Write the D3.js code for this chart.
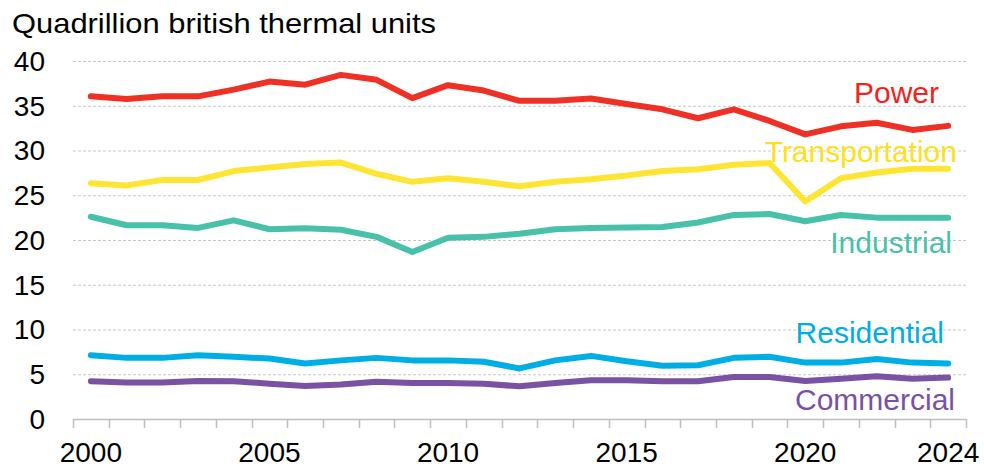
<!DOCTYPE html>
<html lang="en">
<head>
<meta charset="UTF-8">
<title>Energy consumption by sector</title>
<style>
    body { margin: 0; background: #fff; }
    svg { display: block; }
    text { font-family: "Liberation Sans", Arial, sans-serif; fill: #000; }
    .grid line { stroke: #c8c8c8; stroke-width: 1; stroke-dasharray: 3, 2; }
    .series { fill: none; stroke-width: 6; stroke-linejoin: round; stroke-linecap: round; }
</style>
</head>
<body>
<svg width="984" height="468"></svg>
<script src="https://d3js.org/d3.v7.min.js"></script>
<script>
    var years = d3.range(2000, 2025);
    var yearLabels = [2000, 2005, 2010, 2015, 2020, 2024];
    var yTicks = [0, 5, 10, 15, 20, 25, 30, 35, 40];

    var power = [36.05, 35.75, 36.05, 36.05, 36.8, 37.7, 37.35, 38.45, 37.9, 35.85, 37.3, 36.7, 35.55,
                 35.55, 35.8, 35.2, 34.6, 33.6, 34.6, 33.3, 31.8, 32.7, 33.1, 32.3, 32.75];
    var transportation = [26.35, 26.1, 26.7, 26.7, 27.7, 28.1, 28.5, 28.65, 27.4, 26.5, 26.9, 26.5, 26.0,
                          26.5, 26.8, 27.2, 27.7, 27.9, 28.4, 28.6, 24.3, 26.9, 27.55, 27.95, 27.95];
    var industrial = [22.6, 21.65, 21.65, 21.35, 22.2, 21.2, 21.3, 21.15, 20.35, 18.65, 20.25, 20.35, 20.7,
                      21.2, 21.35, 21.4, 21.45, 21.95, 22.8, 22.9, 22.1, 22.8, 22.5, 22.5, 22.5];
    var residential = [7.13, 6.83, 6.83, 7.13, 6.95, 6.75, 6.2, 6.55, 6.83, 6.55, 6.55, 6.4, 5.65,
                       6.55, 7.05, 6.45, 5.95, 6.0, 6.83, 6.95, 6.3, 6.3, 6.7, 6.3, 6.2];
    var commercial = [4.22, 4.07, 4.07, 4.25, 4.22, 3.95, 3.7, 3.85, 4.15, 4.03, 4.03, 3.95, 3.65,
                      4.03, 4.33, 4.33, 4.22, 4.22, 4.7, 4.7, 4.25, 4.5, 4.78, 4.5, 4.63];

    var series = [
        { name: "Power", values: power, color: "#ee3124", labelColor: "#f5221b", lx: 939, ly: 103 },
        { name: "Transportation", values: transportation, color: "#ffe533", labelColor: "#ffe020", lx: 957, ly: 162 },
        { name: "Industrial", values: industrial, color: "#47c1aa", labelColor: "#47c1aa", lx: 952, ly: 253 },
        { name: "Residential", values: residential, color: "#00aee6", labelColor: "#00aee6", lx: 944, ly: 343 },
        { name: "Commercial", values: commercial, color: "#7b51a3", labelColor: "#7b51a3", lx: 955, ly: 410 }
    ];

    var svg = d3.select("svg");

    var x = d3.scaleBand().domain(years).range([73, 966]).padding(0);
    var y = d3.scaleLinear().domain([0, 40]).range([419, 61]);

    // title
    svg.append("text")
        .attr("x", 12)
        .attr("y", 33)
        .style("font-size", "28px")
        .attr("textLength", 424)
        .attr("lengthAdjust", "spacingAndGlyphs")
        .text("Quadrillion british thermal units");

    // horizontal dashed grid
    svg.append("g")
        .attr("class", "grid")
        .selectAll("line")
        .data(yTicks.filter(function (d) { return d > 0; }))
        .enter()
        .append("line")
        .attr("x1", 73)
        .attr("x2", 966)
        .attr("y1", function (d) { return y(d) + 0.5; })
        .attr("y2", function (d) { return y(d) + 0.5; });

    // y labels
    svg.append("g")
        .selectAll("text")
        .data(yTicks)
        .enter()
        .append("text")
        .attr("x", 45)
        .attr("y", function (d) { return y(d); })
        .attr("dy", "0.35em")
        .style("text-anchor", "end")
        .style("font-size", "28px")
        .text(function (d) { return d; });

    // x axis with ticks at band boundaries
    var xAxis = svg.append("g");
    xAxis.append("line")
        .attr("x1", 73).attr("x2", 966)
        .attr("y1", 419.5).attr("y2", 419.5)
        .style("stroke", "#bfbfbf").style("stroke-width", 1.5);
    var edges = years.map(function (d) { return x(d); }).concat([x(2024) + x.bandwidth()]);
    xAxis.selectAll(".tick")
        .data(edges)
        .enter()
        .append("line")
        .attr("x1", function (d) { return Math.round(d) + 0.5; })
        .attr("x2", function (d) { return Math.round(d) + 0.5; })
        .attr("y1", 419)
        .attr("y2", 428)
        .style("stroke", "#bfbfbf").style("stroke-width", 1.5);
    xAxis.selectAll(".year")
        .data(yearLabels)
        .enter()
        .append("text")
        .attr("x", function (d) { return x(d) + x.bandwidth() / 2; })
        .attr("y", 462)
        .style("text-anchor", "middle")
        .style("font-size", "28px")
        .text(function (d) { return d; });

    var line = d3.line()
        .x(function (d, i) { return x(years[i]) + x.bandwidth() / 2; })
        .y(function (d) { return y(d); });

    svg.append("g")
        .selectAll("path")
        .data(series)
        .enter()
        .append("path")
        .attr("class", "series")
        .attr("d", function (d) { return line(d.values); })
        .style("stroke", function (d) { return d.color; });

    svg.append("g")
        .selectAll("text")
        .data(series)
        .enter()
        .append("text")
        .attr("x", function (d) { return d.lx; })
        .attr("y", function (d) { return d.ly; })
        .style("text-anchor", "end")
        .style("font-size", "30px")
        .style("fill", function (d) { return d.labelColor; })
        .text(function (d) { return d.name; });
</script>
</body>
</html>
